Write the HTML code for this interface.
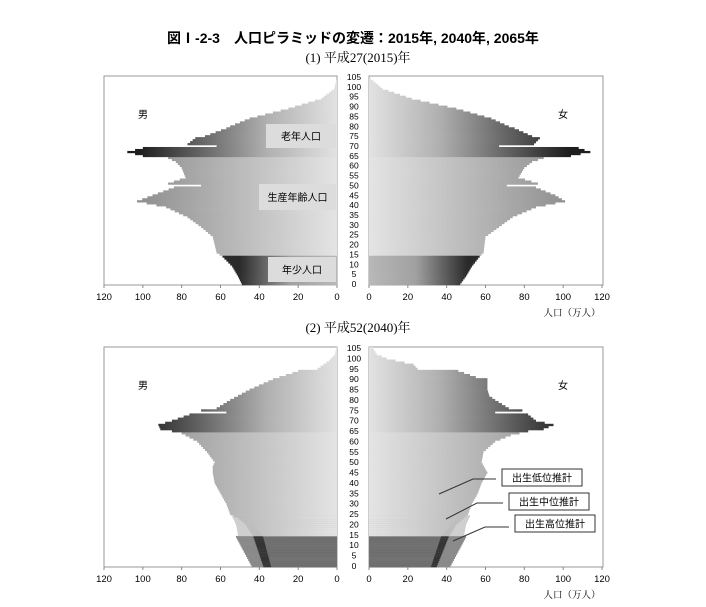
<!DOCTYPE html>
<html><head><meta charset="utf-8">
<style>
body{margin:0;background:#fff;width:706px;height:607px;overflow:hidden;font-family:"Liberation Sans","Noto Sans CJK JP",sans-serif;}
svg{display:block}
</style></head>
<body>
<svg id="s" width="706" height="607" xmlns="http://www.w3.org/2000/svg">
<defs>
<linearGradient id="eL" gradientUnits="userSpaceOnUse" x1="337" y1="0" x2="104" y2="0"><stop offset="0" stop-color="#e2e2e2"/><stop offset="0.3" stop-color="#b0b0b0"/><stop offset="0.85" stop-color="#1e1e1e"/></linearGradient>
<linearGradient id="eR" gradientUnits="userSpaceOnUse" x1="369" y1="0" x2="603" y2="0"><stop offset="0" stop-color="#e2e2e2"/><stop offset="0.3" stop-color="#b0b0b0"/><stop offset="0.85" stop-color="#1e1e1e"/></linearGradient>
<linearGradient id="wL" gradientUnits="userSpaceOnUse" x1="337" y1="0" x2="104" y2="0"><stop offset="0" stop-color="#e4e4e4"/><stop offset="0.9" stop-color="#8a8a8a"/></linearGradient>
<linearGradient id="wR" gradientUnits="userSpaceOnUse" x1="369" y1="0" x2="603" y2="0"><stop offset="0" stop-color="#e4e4e4"/><stop offset="0.9" stop-color="#8a8a8a"/></linearGradient>
<linearGradient id="cL" gradientUnits="userSpaceOnUse" x1="337" y1="0" x2="104" y2="0"><stop offset="0" stop-color="#b8b8b8"/><stop offset="0.2" stop-color="#a0a0a0"/><stop offset="0.42" stop-color="#2a2a2a"/></linearGradient>
<linearGradient id="cR" gradientUnits="userSpaceOnUse" x1="369" y1="0" x2="603" y2="0"><stop offset="0" stop-color="#b8b8b8"/><stop offset="0.2" stop-color="#a0a0a0"/><stop offset="0.42" stop-color="#2a2a2a"/></linearGradient>
</defs>
<text x="353" y="43" text-anchor="middle" font-size="14" font-weight="bold">図Ⅰ-2-3　人口ピラミッドの変遷：2015年, 2040年, 2065年</text>
<text x="358" y="62" text-anchor="middle" font-size="13" font-family="Liberation Serif,Noto Serif CJK SC,serif">(1)  平成27(2015)年</text>
<text x="358" y="332" text-anchor="middle" font-size="13" font-family="Liberation Serif,Noto Serif CJK SC,serif">(2)  平成52(2040)年</text>
<g id="g"></g>
</svg>
<script>
var S=document.getElementById('g'),ns='http://www.w3.org/2000/svg';
function el(t,a,tx){var e=document.createElementNS(ns,t);for(var k in a)e.setAttribute(k,a[k]);if(tx!=null)e.textContent=tx;S.appendChild(e);return e;}
function ip(p){var r=[];for(var a=0;a<=105;a++){var v=0;for(var i=0;i<p.length-1;i++){if(a>=p[i][0]&&a<=p[i+1][0]){var t=(a-p[i][0])/((p[i+1][0]-p[i][0])||1);v=p[i][1]+t*(p[i+1][1]-p[i][1]);break;}}if(a>p[p.length-1][0])v=0;r.push(v);}return r;}
var SC=233/120;
function panel(top,bot,m,f,kids){
 var rh=(bot-top)/106;
 el('rect',{x:104,y:top,width:233,height:bot-top,fill:'none',stroke:'#999','stroke-width':1});
 el('rect',{x:369,y:top,width:234,height:bot-top,fill:'none',stroke:'#999','stroke-width':1});
 for(var a=0;a<=105;a++){
  var y=bot-(a+1)*rh;
  var g=a>=65?'e':(a>=15?'w':'c');
  if(kids&&a<15)continue;
  var wm=m[a]*SC,wf=f[a]*SC;
  el('rect',{x:337-wm,y:y,width:wm,height:rh+0.3,fill:'url(#'+g+'L)'});
  el('rect',{x:369,y:y,width:wf,height:rh+0.3,fill:'url(#'+g+'R)'});
 }
 if(kids){
  for(var a=0;a<25;a++){
   var y=bot-(a+1)*rh;
   var hi=kids.hm[a]*SC,me=kids.mm[a]*SC,lo=kids.lm[a]*SC;
   var hf=kids.hf[a]*SC,mf=kids.mf[a]*SC,lf=kids.lf[a]*SC;
   var c1=a<15?'#8a8a8a':'#cfcfcf',c2=a<15?'#333':'#bdbdbd',c3=a<15?'#727272':null;
   if(a<15||kids.hm[a]>0){el('rect',{x:337-hi,y:y,width:hi,height:rh+0.3,fill:c1});
   el('rect',{x:369,y:y,width:hf,height:rh+0.3,fill:c1});}
   el('rect',{x:337-me,y:y,width:me,height:rh+0.3,fill:c2});
   el('rect',{x:369,y:y,width:mf,height:rh+0.3,fill:c2});
   if(c3){el('rect',{x:337-lo,y:y,width:lo,height:rh+0.3,fill:c3});el('rect',{x:369,y:y,width:lf,height:rh+0.3,fill:c3});}
   else{el('rect',{x:337-lo,y:y,width:lo,height:rh+0.3,fill:'url(#wL)'});el('rect',{x:369,y:y,width:lf,height:rh+0.3,fill:'url(#wR)'});}
  }
 }
 for(var a=0;a<=105;a+=5){el('text',{x:354,y:bot-a*rh-rh/2+3,'text-anchor':'middle','font-size':8.5},a);}
 var ty=bot+15;
 for(var i=0;i<=6;i++){el('text',{x:337-i*20*SC,y:ty,'text-anchor':'middle','font-size':9.5},i*20);
  el('text',{x:369+i*20*SC,y:ty,'text-anchor':'middle','font-size':9.5},i*20);
  el('line',{x1:337-i*20*SC,x2:337-i*20*SC,y1:bot,y2:bot+3,stroke:'#888'});el('line',{x1:369+i*20*SC,x2:369+i*20*SC,y1:bot,y2:bot+3,stroke:'#888'});}
 el('text',{x:572,y:bot+31,'text-anchor':'middle','font-size':9.5,'font-family':'Liberation Serif,Noto Serif CJK SC,serif'},'人口（万人）');
 el('text',{x:143,y:top+42,'text-anchor':'middle','font-size':10},'男');
 el('text',{x:563,y:top+42,'text-anchor':'middle','font-size':10},'女');
}
var m15=ip([[0,49],[4,51],[9,54],[14,59],[16,62],[24,64],[29,70],[34,77],[39,88],[42,103],[45,95],[49,84],[50,70],[51,87],[54,78],[59,80],[62,83],[64,87],[65,100],[67,108],[69,100],[70,62],[71,77],[74,73],[75,68],[79,57],[80,55],[84,45],[89,25],[94,8],[99,1.5],[103,0.5]]);
var f15=ip([[0,47],[4,50],[9,53],[14,57],[16,59],[24,60],[29,67],[34,74],[39,86],[42,101],[45,96],[49,86],[50,71],[51,87],[54,77],[59,80],[62,84],[64,90],[65,104],[67,114],[69,108],[70,67],[71,85],[74,88],[75,84],[79,75],[80,72],[84,63],[89,45],[94,22],[99,7],[104,1]]);
panel(76,285,m15,f15,null);
var m40=ip([[0,34],[14,40],[20,46],[24,53],[25,55],[30,57],[35,60],[40,63],[45,64],[48,64],[50,63],[55,67],[60,72],[62,76],[64,80],[65,85],[66,91],[68,92],[70,85],[73,76],[74,57],[75,70],[76,62],[80,55],[85,45],[90,33],[93,23],[94,20],[95,10],[99,4],[102,1],[105,0.5]]);
var f40=ip([[0,32],[14,38],[20,44],[24,49],[25,51],[30,53],[35,56],[40,58],[45,61],[50,58],[55,59],[60,65],[63,73],[65,82],[66,90],[68,95],[70,86],[73,82],[74,65],[75,79],[76,72],[80,65],[82,62],[85,61],[90,61],[91,55],[94,46],[95,25],[97,23],[100,9],[102,4],[105,2]]);
var kids={hm:ip([[0,44],[14,52],[15,51],[20,52],[24,54],[25,0]]),mm:ip([[0,38],[14,43],[20,47],[24,52],[25,0]]),lm:ip([[0,34],[14,38],[20,43],[24,53],[25,55]]),
hf:ip([[0,42],[14,50],[15,49],[20,50],[24,52],[25,0]]),mf:ip([[0,35],[14,41],[20,45],[24,50],[25,0]]),lf:ip([[0,32],[14,37],[20,42],[24,49],[25,51]])};
panel(347,567,m40,f40,kids);
function box(x,y,w,h,t,fill,stroke){el('rect',{x:x,y:y,width:w,height:h,fill:fill,stroke:stroke||'none'});el('text',{x:x+w/2,y:y+h/2+4,'text-anchor':'middle','font-size':10},t);}
box(266,124,70,24,'老年人口','#dcdcdc');
box(259,184,77,26,'生産年齢人口','#dcdcdc');
box(268,257,68,25,'年少人口','#dcdcdc');
box(502,469,80,17,'出生低位推計','#fff','#333');
box(509,493,80,17,'出生中位推計','#fff','#333');
box(515,515,80,17,'出生高位推計','#fff','#333');
el('polyline',{points:'439,494 473,479 496,479',fill:'none',stroke:'#333'});
el('polyline',{points:'446,519 477,503 503,503',fill:'none',stroke:'#333'});
el('polyline',{points:'453,541 485,527 509,527',fill:'none',stroke:'#333'});
</script>
</body></html>
